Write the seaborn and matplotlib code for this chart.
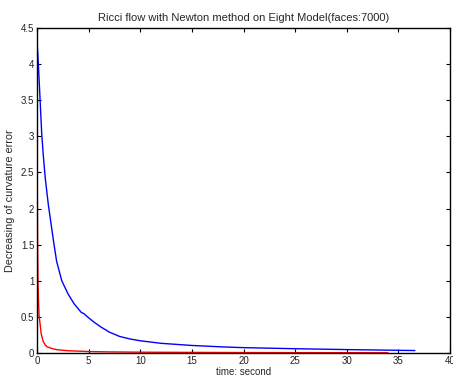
import numpy as np
import pandas as pd
import matplotlib
matplotlib.use('Agg')
import matplotlib.pyplot as plt
import seaborn as sns
from matplotlib.ticker import FormatStrFormatter

# blue curve
blue_t = [0.0, 0.13, 0.3, 0.45, 0.6, 0.8, 1.1, 1.4, 1.65, 1.9, 2.4, 3.0, 3.6, 4.3,
          4.5, 4.9, 5.5, 6.2, 7.0, 8.0, 9.0, 10.0, 12.0, 15.0, 18.0, 20.0, 25.0,
          30.0, 35.0, 36.6]
blue_err = [4.32, 4.0, 3.5, 3.05, 2.75, 2.42, 2.05, 1.75, 1.5, 1.27, 1.0, 0.82, 0.68, 0.56,
            0.55, 0.5, 0.43, 0.36, 0.29, 0.23, 0.195, 0.17, 0.135, 0.105, 0.085,
            0.075, 0.06, 0.048, 0.038, 0.035]

# red curve
red_t = [0.0, 0.03, 0.06, 0.1, 0.15, 0.2, 0.3, 0.4, 0.6, 0.8, 1.0, 1.5, 2.0, 3.0,
         5.0, 7.0, 10.0, 15.0, 20.0, 25.0, 30.0, 34.0]
red_err = [4.0, 2.2, 1.4, 0.95, 0.7, 0.52, 0.4, 0.27, 0.16, 0.11, 0.085, 0.06, 0.045,
           0.032, 0.021, 0.016, 0.012, 0.009, 0.007, 0.006, 0.005, 0.004]

blue_df = pd.DataFrame({'t': blue_t, 'err': blue_err})
red_df = pd.DataFrame({'t': red_t, 'err': red_err})

sns.set_style('ticks', {'xtick.direction': 'in', 'ytick.direction': 'in'})
plt.rcParams['font.family'] = ['Liberation Sans', 'DejaVu Sans']

fig = plt.figure(figsize=(4.53, 3.78), dpi=100)
ax = fig.add_axes([0.0817, 0.066, 0.9117, 0.86])

sns.lineplot(data=blue_df, x='t', y='err', color='#0000ff', linewidth=1.0, ax=ax)
sns.lineplot(data=red_df, x='t', y='err', color='#ff0000', linewidth=1.0, ax=ax)

ax.set_xlim(0, 40)
ax.set_ylim(0, 4.5)
ax.set_xticks(np.arange(0, 41, 5))
ax.set_yticks(np.arange(0, 4.51, 0.5))
ax.yaxis.set_major_formatter(FormatStrFormatter('%g'))
ax.tick_params(top=True, right=True, direction='in', length=3, width=0.8,
               labelsize=7, pad=2, colors='black', labelcolor='#222222')
for s in ax.spines.values():
    s.set_visible(True)
    s.set_linewidth(1.0)
    s.set_color('black')

ax.set_title('Ricci flow with Newton method on Eight Model(faces:7000)', fontsize=8, pad=5)
ax.set_xlabel('time: second', fontsize=7, labelpad=1)
ax.set_ylabel('Decreasing of curvature error', fontsize=7.8)
ax.yaxis.set_label_coords(-0.053, 0.47)

fig.savefig('out.png', dpi=100)
